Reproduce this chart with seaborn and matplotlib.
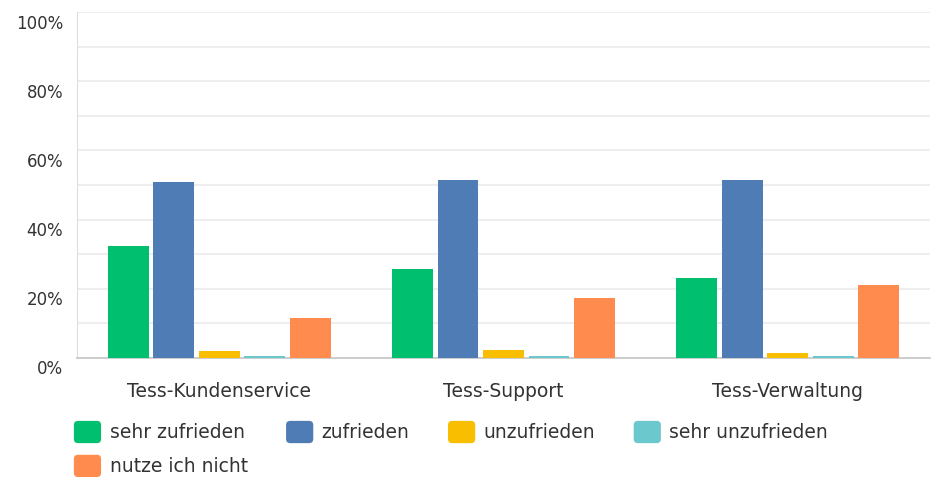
import matplotlib.pyplot as plt
import seaborn as sns
import pandas as pd
from matplotlib.patches import FancyBboxPatch
from matplotlib.legend_handler import HandlerPatch
from matplotlib.transforms import ScaledTranslation

categories = ['Tess-Kundenservice', 'Tess-Support', 'Tess-Verwaltung']
answers = ['sehr zufrieden', 'zufrieden', 'unzufrieden', 'sehr unzufrieden', 'nutze ich nicht']
sehr_zufrieden = [32.4, 25.6, 23.0]
zufrieden = [51.0, 51.4, 51.4]
unzufrieden = [1.9, 2.3, 1.5]
sehr_unzufrieden = [0.5, 0.5, 0.5]
nutze_nicht = [11.5, 17.4, 21.1]
colors = ['#00BF6F', '#507CB6', '#F9BE00', '#6BC8CD', '#FF8B4F']

series = [sehr_zufrieden, zufrieden, unzufrieden, sehr_unzufrieden, nutze_nicht]
rows = []
for ans, vals in zip(answers, series):
    for cat, v in zip(categories, vals):
        rows.append({'category': cat, 'answer': ans, 'value': v})
df = pd.DataFrame(rows)

sns.set_style('white')
plt.rcParams['font.family'] = ['DejaVu Sans']

fig = plt.figure(figsize=(9.32, 4.78), dpi=100)
ax = fig.add_axes([77 / 932, 1 - 358 / 478, 853 / 932, 346 / 478])

sns.barplot(data=df, x='category', y='value', hue='answer', hue_order=answers,
            palette=colors, saturation=1, width=0.8, gap=0.1, ax=ax, legend=False,
            edgecolor='none', linewidth=0, zorder=3)

ax.set_ylim(0, 100)
ax.set_xlim(-0.5, 2.5)
ax.set_yticks(range(0, 101, 20))
ax.set_yticklabels([f'{v}%' for v in range(0, 101, 20)])
for y in range(10, 101, 10):
    ax.axhline(y, color='#eeeeee', lw=1.5, zorder=0)
ax.set_xlabel('')
ax.set_ylabel('')
ax.tick_params(axis='y', length=0, pad=10, labelsize=12, labelcolor='#333333')
ax.tick_params(axis='x', length=0, pad=17, labelsize=13.5, labelcolor='#333333')
shift = ScaledTranslation(0, -0.095, fig.dpi_scale_trans)
for lab in ax.get_yticklabels():
    lab.set_transform(lab.get_transform() + shift)
for s in ['top', 'right']:
    ax.spines[s].set_visible(False)
ax.spines['left'].set_color('#dddddd')
ax.spines['bottom'].set_color('#c4c4c4')
ax.spines['bottom'].set_linewidth(1.2)


class RoundHandler(HandlerPatch):
    def create_artists(self, legend, orig_handle, xdescent, ydescent, width, height, fontsize, trans):
        p = FancyBboxPatch((-xdescent + 1.5, -ydescent + 1.5), width - 3, height - 3,
                           boxstyle='round,pad=1.5,rounding_size=3',
                           facecolor=orig_handle.get_facecolor(), edgecolor='none',
                           transform=trans)
        return [p]


handles = [plt.Rectangle((0, 0), 1, 1, facecolor=c) for c in colors]
order = [0, 4, 1, 2, 3]
leg = fig.legend([handles[i] for i in order], [answers[i] for i in order],
                 ncol=4, loc='upper left', bbox_to_anchor=(57 / 932, 1 - 404 / 478),
                 frameon=False, fontsize=13.5, handlelength=1.45, handleheight=1.45,
                 handletextpad=0.45, columnspacing=2.05, labelspacing=0.62,
                 handler_map={plt.Rectangle: RoundHandler()})
for t in leg.get_texts():
    t.set_color('#333333')

fig.savefig('out.png', dpi=100)
